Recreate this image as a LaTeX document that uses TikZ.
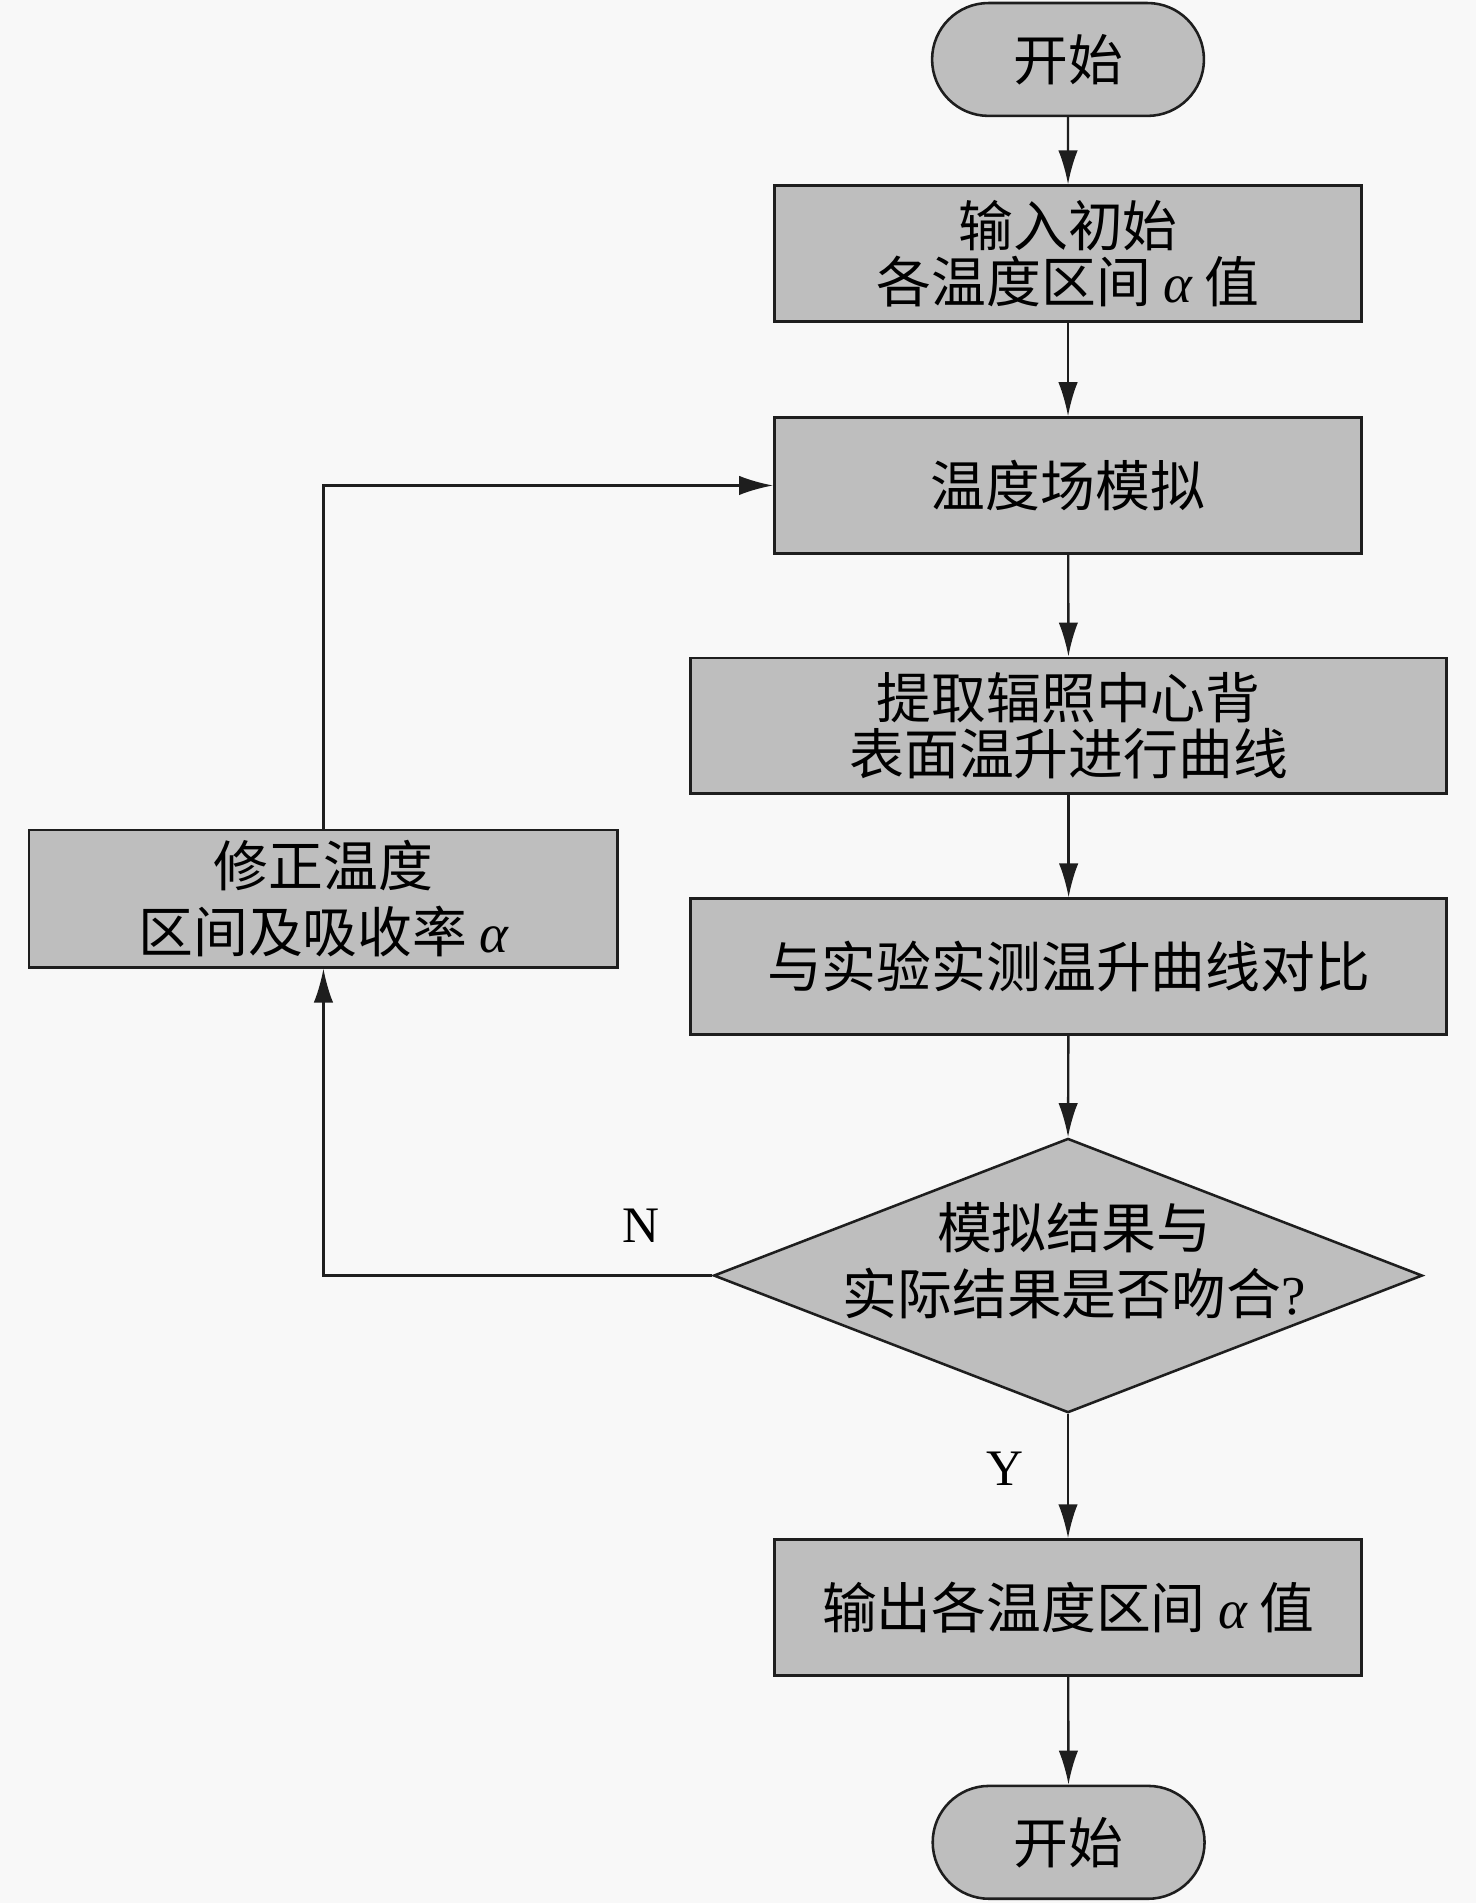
\documentclass[tikz,border=0pt]{standalone}
\usepackage{fontspec}
\setmainfont{Noto Sans CJK SC}
\newfontfamily\latinfont{Liberation Serif}
\usepackage{tikz}
\usetikzlibrary{positioning}
\usetikzlibrary{shapes.geometric}
\usetikzlibrary{shapes.misc}
\usetikzlibrary{arrows.meta}
\definecolor{boxGray}{RGB}{190,190,190}
\definecolor{lineColor}{RGB}{30,30,30}
\definecolor{paperColor}{RGB}{248,248,248}
\newcommand{\alphaSym}{{\latinfont\itshape α}}

\begin{document}
\begin{tikzpicture}

          \tikzstyle{cjkFont} = [font=\fontsize{25.7}{26.5}\selectfont];
          \tikzstyle{cjkFontLoose} = [font=\fontsize{25.7}{31}\selectfont];
          \tikzstyle{termNode} = [cjkFont, rounded rectangle, draw=lineColor, fill=boxGray, line width=1.2pt, minimum width=4.48cm, minimum height=1.86cm, inner sep=0pt];
          \tikzstyle{boxNode} = [cjkFont, rectangle, draw=lineColor, fill=boxGray, line width=1.2pt, minimum width=9.68cm, minimum height=2.24cm, inner sep=0pt, align=center];
          \tikzstyle{wideBoxNode} = [boxNode, minimum width=12.46cm];
          \tikzstyle{decisionNode} = [diamond, draw=lineColor, fill=boxGray, line width=1.2pt, minimum width=11.68cm, minimum height=4.52cm, inner sep=0pt];
          \tikzstyle{textNode} = [cjkFontLoose, align=center, inner sep=0pt];
          \tikzstyle{labelNode} = [font=\fontsize{24}{24}\selectfont\latinfont, inner sep=0pt];

          \tikzstyle{flowEdge} = [line width=1.1pt, lineColor, -{Latex[length=5.6mm,width=3.2mm]}];

          \useasboundingbox (0,0) rectangle (24.32,-31.36);
          \fill[paperColor] (0,0) rectangle (24.32,-31.36);

          \node[termNode] (start) at (17.6,-0.98) {开始};
          \node[boxNode] (input) at (17.6,-4.18) {输入初始\\各温度区间 \alphaSym\ 值};
          \node[boxNode] (sim) at (17.6,-8.0) {温度场模拟};
          \node[wideBoxNode] (extract) at (17.61,-11.96) {提取辐照中心背\\表面温升进行曲线};
          \node[wideBoxNode] (compare) at (17.61,-15.93) {与实验实测温升曲线对比};
          \node[decisionNode] (check) at (17.6,-21.02) {};
          \node[textNode] (checkText) at (17.7,-20.78) {模拟结果与\\实际结果是否吻合{\latinfont ?}};
          \node[boxNode] (output) at (17.6,-26.49) {输出各温度区间 \alphaSym\ 值};
          \node[termNode] (stop) at (17.61,-30.36) {开始};
          \node[boxNode, cjkFontLoose, minimum width=9.7cm, minimum height=2.26cm] (fix) at (5.33,-14.81) {修正温度\\区间及吸收率 \alphaSym};

          \node[labelNode] (no) at (10.56,-20.2) {N};
          \node[labelNode] (yes) at (16.56,-24.2) {Y};

          \draw[flowEdge] (start) -- (input);
          \draw[flowEdge] (input) -- (sim);
          \draw[flowEdge] (sim) -- (extract);
          \draw[flowEdge] (extract) -- (compare);
          \draw[flowEdge] (compare) -- (check.north);
          \draw[flowEdge] (check.south) -- (output);
          \draw[flowEdge] (output) -- (stop);
          \draw[flowEdge] (check.west) -| (fix.south);
          \draw[flowEdge] (fix.north) |- (sim.west);
        \end{tikzpicture}
\end{document}
